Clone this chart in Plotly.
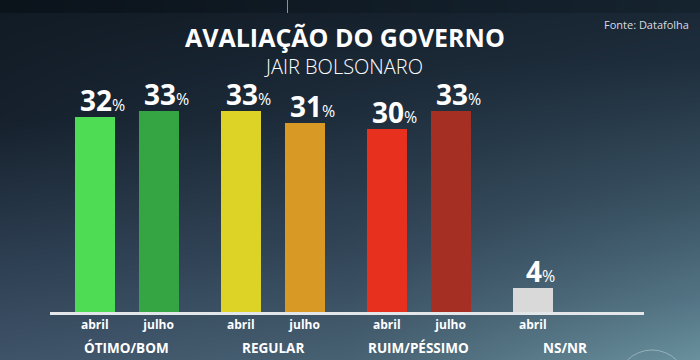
import base64
import struct
import zlib
import numpy as np
import plotly.graph_objects as go

# ---- data ----
groups = ["ÓTIMO/BOM", "REGULAR", "RUIM/PÉSSIMO", "NS/NR"]
abril = [32, 33, 30, 4]
julho = [33, 31, 33, None]
month_labels = ["abril", "julho"]
colors_abril = ["#4fdc55", "#dcd326", "#e8301f", "#d9d9d9"]
colors_julho = ["#35a443", "#d99a25", "#a62f24", None]

title = "AVALIAÇÃO DO GOVERNO"
subtitle = "JAIR BOLSONARO"
source = "Fonte: Datafolha"

# ---- layout geometry ----
W, H = 700, 360
ML, MR, MT, MB = 50, 56, 68, 48
PW, PH = W - ML - MR, H - MT - MB
GROUP_STEP_PX = 146.0
JUL_OFF = 0.437
BAR_W = 0.274
X0 = -0.307
X1 = X0 + PW / GROUP_STEP_PX
YMAX = 40


def px(x):
    return (x - ML) / PW


def py(y):
    return (H - MB - y) / PH


FONT = "Open Sans"


# ---- background gradient as PNG ----
def column(stops, ys):
    pos = np.array([s[0] for s in stops], float)
    cols = np.array([s[1] for s in stops], float)
    return np.stack([np.interp(ys, pos, cols[:, k]) for k in range(3)], axis=1)


yy = np.arange(H, dtype=float)
left = column([(0, (17, 27, 37)), (120, (22, 33, 45)), (250, (44, 61, 80)), (360, (63, 83, 105))], yy)
mid = column([(0, (20, 31, 42)), (110, (30, 45, 60)), (250, (50, 70, 88)), (360, (72, 98, 115))], yy)
right = column([(0, (26, 40, 54)), (60, (31, 46, 61)), (200, (58, 83, 99)), (300, (84, 117, 133)), (360, (106, 145, 157))], yy)
u = (np.arange(W, dtype=float) / (W - 1))[None, :, None]
L, M, R = left[:, None, :], mid[:, None, :], right[:, None, :]
img = np.where(u < 0.5, L + (M - L) * (u / 0.5), M + (R - M) * ((u - 0.5) / 0.5))
band = np.linspace(0, 1, W)[:, None] * np.array([22, 36, 48]) + (1 - np.linspace(0, 1, W))[:, None] * np.array([11, 19, 27])
img[:13, :, :] = band[None, :, :]
img[:13, 287, :] = (130, 148, 162)
img = np.clip(img, 0, 255).astype(np.uint8)

raw = b"".join(b"\x00" + img[r].tobytes() for r in range(H))


def chunk(tag, data):
    c = struct.pack(">I", len(data)) + tag + data
    return c + struct.pack(">I", zlib.crc32(tag + data) & 0xFFFFFFFF)


png = (b"\x89PNG\r\n\x1a\n" + chunk(b"IHDR", struct.pack(">IIBBBBB", W, H, 8, 2, 0, 0, 0))
       + chunk(b"IDAT", zlib.compress(raw, 9)) + chunk(b"IEND", b""))
src = "data:image/png;base64," + base64.b64encode(png).decode()

fig = go.Figure()
ann = []

xs, ys, cols, ticks_x, ticks_t = [], [], [], [], []
for i, g in enumerate(groups):
    for m, (vals, cs) in enumerate([(abril, colors_abril), (julho, colors_julho)]):
        v = vals[i]
        if v is None:
            continue
        x = i + m * JUL_OFF
        xs.append(x)
        ys.append(v)
        cols.append(cs[i])
        ticks_x.append(x)
        ticks_t.append(f"<b>{month_labels[m]}</b>")
        ann.append(dict(
            text=f"<b>{v}</b><span style='font-size:16px;font-weight:400'>%</span>",
            x=x, y=v, xref="x", yref="y", xanchor="center", yanchor="bottom",
            xshift=8, yshift=-4, showarrow=False,
            font=dict(family=FONT, size=28, color="white"),
        ))

fig.add_trace(go.Bar(
    x=xs, y=ys, width=BAR_W, marker=dict(color=cols, line=dict(width=0)),
    hoverinfo="skip",
))

fig.add_layout_image(dict(
    source=src, xref="paper", yref="paper", x=px(0), y=py(0), sizex=W / PW, sizey=H / PH,
    xanchor="left", yanchor="top", sizing="stretch", layer="below",
))

fig.add_shape(type="circle", xref="paper", yref="paper",
              x0=px(617), x1=px(687), y0=py(350), y1=py(420),
              line=dict(color="rgba(190,210,218,0.55)", width=1))

ann.append(dict(text=f"<b>{title}</b>", x=px(345), y=py(37), xref="paper", yref="paper",
                showarrow=False, font=dict(family=FONT, size=25, color="white"),
                xanchor="center", yanchor="middle"))
ann.append(dict(text=subtitle, x=px(343), y=py(66), xref="paper", yref="paper",
                showarrow=False, font=dict(family=FONT, size=20, color="white", weight=300),
                xanchor="center", yanchor="middle"))
ann.append(dict(text=source, x=px(691), y=py(24), xref="paper", yref="paper",
                showarrow=False, font=dict(family=FONT, size=11, color="#d6dde3"),
                xanchor="right", yanchor="middle"))
for i, g in enumerate(groups):
    ann.append(dict(text=f"<b>{g}</b>", x=i + JUL_OFF / 2, y=py(348), xref="x", yref="paper",
                    showarrow=False, font=dict(family=FONT, size=13.5, color="white"),
                    xanchor="center", yanchor="middle"))

fig.update_layout(
    width=W, height=H, margin=dict(l=ML, r=MR, t=MT, b=MB),
    paper_bgcolor="#2a3e50", plot_bgcolor="rgba(0,0,0,0)",
    showlegend=False, annotations=ann, bargap=0,
    xaxis=dict(range=[X0, X1], tickvals=ticks_x, ticktext=ticks_t, showgrid=False,
               zeroline=False, showline=True, linecolor="#e3e7ea", linewidth=3,
               ticks="", tickfont=dict(family=FONT, size=12, color="white"), fixedrange=True),
    yaxis=dict(range=[0, YMAX], visible=False, fixedrange=True),
)

fig.write_html("out.html", config={"displayModeBar": False},
               post_script="document.body.style.margin='0';document.body.style.overflow='hidden';")
